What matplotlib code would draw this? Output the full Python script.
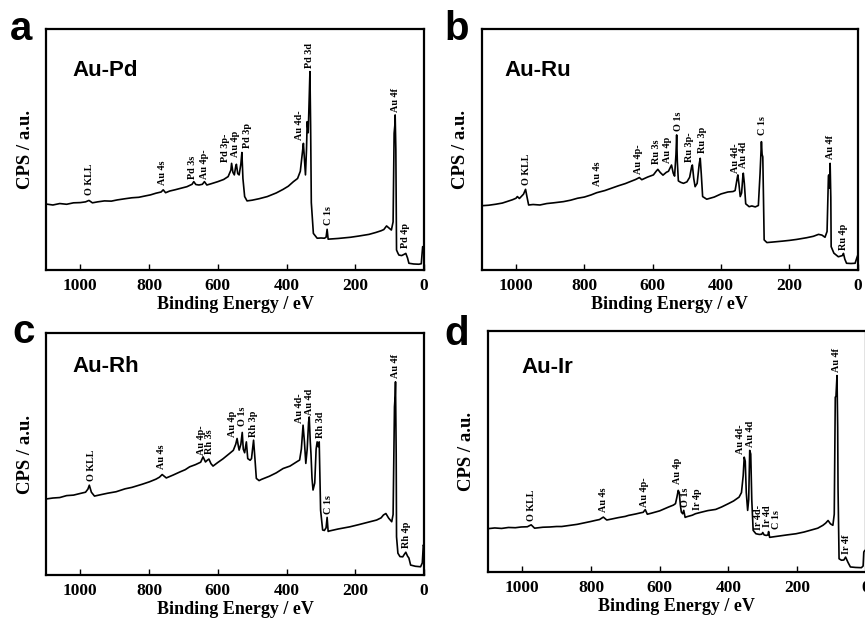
import matplotlib
matplotlib.use("Agg")
import matplotlib.pyplot as plt

# XPS survey spectra (0..100 = bottom..top of the frame)
pd_energy = [1100, 1080, 1060, 1040, 1020, 1000, 985, 975, 965, 950, 930, 910, 893, 870, 850,
             830, 810, 796, 780, 765, 759, 752, 740, 725, 709, 690, 675, 670, 664, 655, 645,
             639, 632, 620, 600, 583, 570, 562, 560, 556, 552, 548, 546, 542, 538, 533, 530,
             527, 522, 515, 500, 480, 456, 430, 410, 395, 380, 368, 360, 353, 351, 348, 345,
             342, 340, 337, 334, 332, 330, 328, 322, 311, 300, 290, 285, 282, 279, 270, 250,
             214, 190, 160, 140, 125, 117, 109, 100, 95, 90, 87, 85, 84, 82, 80, 76, 73, 65,
             58, 53, 48, 44, 30, 15, 8, 4, 0]
pd_cps = [27.4, 27.0, 27.6, 27.3, 27.9, 28.0, 28.3, 28.9, 27.9, 28.3, 28.7, 28.6, 29.1, 29.6, 30.0,
          30.2, 30.8, 31.2, 31.9, 32.4, 33.3, 32.1, 32.8, 33.3, 33.9, 34.6, 35.6, 36.7, 35.5, 35.3, 35.6,
          36.7, 35.3, 35.8, 36.7, 37.6, 38.8, 41.5, 44.3, 40.5, 39.5, 43.0, 43.9, 40.0, 39.5, 44.0, 48.8,
          38.0, 30.5, 28.7, 29.0, 29.6, 30.5, 32.0, 33.5, 34.8, 36.7, 38.0, 41.0, 50.0, 52.6, 46.0, 39.5,
          50.0, 61.6, 57.0, 72.0, 82.4, 60.0, 28.0, 15.2, 13.2, 13.3, 13.2, 13.6, 16.9, 12.8, 12.9, 13.1,
          13.6, 14.1, 14.8, 15.6, 16.3, 16.8, 18.3, 17.2, 16.6, 20.0, 56.8, 60.0, 64.4, 50.0, 8.3, 7.0, 6.2, 6.0,
          6.5, 6.9, 5.0, 2.8, 2.5, 2.4, 2.6, 9.7, 9.0]

ru_energy = [1100, 1080, 1060, 1040, 1027, 1010, 1000, 996, 990, 984, 978, 972, 968, 963, 950,
             930, 910, 890, 861, 840, 820, 800, 780, 764, 740, 720, 700, 680, 666, 650, 639,
             632, 615, 598, 590, 585, 578, 570, 560, 554, 545, 540, 536, 532, 530, 528, 525,
             518, 510, 500, 492, 486, 484, 480, 476, 470, 464, 461, 458, 454, 442, 420, 400,
             380, 365, 359, 353, 351, 348, 344, 340, 336, 335, 332, 328, 318, 310, 300, 291,
             286, 282, 280, 278, 276, 274, 266, 250, 220, 200, 179, 150, 130, 115, 105, 96,
             90, 86, 85, 83, 81, 79, 78, 70, 57, 50, 45, 42, 38, 33, 20, 8, 3, 0]
ru_cps = [26.7, 26.9, 27.3, 27.8, 28.4, 29.2, 29.8, 30.5, 29.7, 30.6, 31.5, 33.5, 30.5, 27.0, 27.2,
          27.0, 27.6, 27.9, 28.4, 29.0, 29.8, 30.3, 31.2, 32.1, 33.0, 34.0, 35.0, 35.9, 36.7, 37.6, 38.4,
          37.5, 38.6, 39.5, 41.0, 41.8, 40.5, 39.4, 40.6, 41.0, 43.6, 40.2, 39.0, 48.0, 56.1, 45.0, 37.0,
          36.4, 36.0, 36.6, 38.5, 43.0, 43.6, 38.0, 34.6, 36.0, 44.0, 46.4, 40.0, 30.5, 29.4, 30.3, 31.6,
          32.4, 32.6, 33.0, 38.0, 39.5, 36.0, 30.5, 32.0, 39.5, 40.2, 36.0, 27.5, 26.3, 26.6, 26.2, 26.8,
          40.0, 53.3, 48.0, 47.0, 30.0, 12.5, 11.4, 11.6, 12.0, 12.3, 12.7, 13.4, 14.0, 14.8, 14.5, 13.6,
          16.0, 39.0, 39.5, 34.0, 44.3, 30.0, 9.7, 7.0, 5.5, 5.8, 6.0, 6.9, 4.5, 2.8, 2.7, 2.8, 5.0, 6.2]

rh_energy = [1100, 1080, 1060, 1040, 1020, 1000, 985, 978, 974, 968, 959, 940, 920, 896, 870,
             850, 820, 799, 780, 770, 762, 750, 730, 710, 695, 682, 665, 650, 643, 636, 630,
             626, 620, 614, 600, 585, 566, 555, 548, 544, 540, 538, 533, 529, 526, 522, 517,
             513, 506, 502, 499, 496, 492, 488, 480, 473, 450, 430, 410, 390, 370, 362, 357,
             352, 348, 344, 340, 336, 334, 331, 329, 326, 323, 318, 314, 311, 308, 305, 301,
             295, 290, 285, 282, 279, 275, 250, 216, 190, 160, 138, 125, 118, 111, 103, 94,
             90, 86, 84, 83, 81, 80, 76, 70, 62, 57, 53, 48, 44, 39, 25, 10, 5, 2, 0]
rh_cps = [31.4, 31.8, 32.0, 32.8, 33.0, 33.7, 34.2, 35.5, 37.1, 34.2, 32.6, 33.2, 33.8, 34.4, 35.6,
          36.2, 37.5, 38.5, 39.6, 40.4, 41.5, 40.1, 41.3, 42.6, 43.5, 44.7, 45.6, 46.6, 48.8, 46.7, 47.5,
          47.9, 46.0, 45.0, 46.5, 48.0, 50.2, 51.5, 54.0, 56.4, 53.0, 51.6, 54.0, 58.9, 52.0, 50.5, 55.0,
          48.1, 47.4, 48.1, 52.0, 55.7, 48.0, 39.9, 39.0, 39.5, 40.8, 42.2, 44.0, 45.0, 46.8, 47.5, 52.0,
          61.9, 55.0, 46.1, 52.0, 63.0, 65.3, 55.0, 50.2, 40.0, 35.1, 38.0, 52.0, 55.0, 53.0, 55.0, 26.8,
          18.6, 18.4, 19.5, 23.8, 18.0, 18.2, 19.0, 19.9, 20.8, 21.9, 22.7, 23.6, 24.8, 25.4, 23.5, 22.0,
          25.0, 69.5, 74.0, 79.8, 50.0, 15.8, 9.0, 7.6, 7.5, 8.6, 9.4, 7.8, 7.0, 4.1, 3.6, 3.4, 5.0, 12.4, 11.5]

ir_energy = [1100, 1080, 1060, 1040, 1020, 1003, 985, 974, 964, 940, 920, 900, 885, 860, 840,
             820, 800, 788, 775, 764, 754, 740, 720, 700, 691, 670, 655, 648, 642, 636, 625,
             600, 574, 560, 554, 550, 546, 543, 540, 537, 533, 530, 526, 520, 505, 496, 480,
             460, 437, 420, 400, 385, 369, 362, 357, 354, 351, 348, 344, 341, 338, 335, 332,
             328, 320, 310, 303, 300, 296, 290, 285, 283, 280, 270, 250, 230, 203, 180, 160,
             140, 125, 117, 110, 103, 96, 92, 89, 87, 84, 82, 81, 78, 71, 64, 59, 52, 45,
             30, 13, 8, 6, 3, 0]
ir_cps = [18.0, 18.3, 18.1, 18.5, 18.4, 18.7, 18.8, 19.6, 18.2, 18.6, 18.7, 18.9, 18.9, 19.4, 19.8,
          20.4, 21.0, 21.4, 21.8, 22.8, 21.6, 22.0, 22.6, 23.1, 23.5, 24.1, 24.6, 24.8, 25.9, 24.0, 24.4,
          25.4, 27.0, 27.8, 28.4, 31.0, 33.9, 33.0, 28.0, 24.9, 24.2, 25.6, 22.7, 23.0, 23.6, 24.2, 24.8,
          25.5, 26.0, 27.0, 28.4, 29.5, 31.1, 33.0, 40.0, 47.7, 46.0, 33.0, 25.6, 30.0, 50.5, 49.0, 30.0,
          17.3, 15.9, 15.6, 15.7, 16.4, 15.4, 15.2, 15.4, 16.8, 14.4, 14.6, 15.0, 15.4, 15.9, 16.6, 17.4,
          18.2, 19.4, 20.3, 21.4, 20.0, 19.4, 24.0, 72.6, 73.0, 81.6, 60.0, 35.0, 5.5, 4.9, 5.0, 6.2, 4.0, 2.1,
          1.9, 1.8, 2.5, 8.3, 9.0, 9.0]

# peak labels: name, energy, height of label foot
pd_peaks = ["O KLL", "Au 4s", "Pd 3s", "Au 4p-", "Pd 3p-", "Au 4p", "Pd 3p", "Au 4d-", "Pd 3d", "C 1s", "Au 4f", "Pd 4p"]
pd_peak_e = [973, 760, 675, 638, 578, 550, 515, 361, 332, 279, 83, 53]
pd_peak_y = [31.2, 35.3, 38.0, 38.0, 45.0, 47.0, 50.5, 54.0, 83.8, 18.7, 65.8, 9.0]

ru_peaks = ["O KLL", "Au 4s", "Au 4p-", "Ru 3s", "Au 4p", "O 1s", "Ru 3p-", "Ru 3p", "Au 4d-", "Au 4d", "C 1s", "Au 4f", "Ru 4p"]
ru_peak_e = [969, 761, 642, 590, 557, 525, 491, 454, 359, 335, 278, 81, 42]
ru_peak_y = [35.3, 34.9, 39.9, 44.0, 44.3, 57.9, 45.0, 48.5, 40.4, 42.2, 56.0, 46.0, 8.3]

rh_peaks = ["O KLL", "Au 4s", "Au 4p-", "Rh 3s", "Au 4p", "O 1s", "Rh 3p", "Au 4d-", "Au 4d", "Rh 3d", "C 1s", "Au 4f", "Rh 4p"]
rh_peak_e = [969, 763, 648, 624, 558, 527, 496, 362, 334, 301, 279, 82, 52]
rh_peak_y = [38.9, 43.6, 49.5, 49.8, 57.1, 61.5, 57.1, 62.9, 66.0, 56.4, 25.4, 81.2, 11.0]

ir_peaks = ["O KLL", "Au 4s", "Au 4p-", "Au 4p", "O 1s", "Ir 4p", "Au 4d-", "Au 4d", "Ir 4d-", "Ir 4d", "C 1s", "Au 4f", "Ir 4f"]
ir_peak_e = [974, 764, 644, 549, 525, 491, 364, 335, 313, 286, 261, 86, 57]
ir_peak_y = [21.2, 24.9, 27.2, 36.4, 27.0, 25.9, 49.1, 51.9, 17.3, 18.7, 18.0, 83.0, 7.6]

samples = ["Au-Pd", "Au-Ru", "Au-Rh", "Au-Ir"]
letters = ["a", "b", "c", "d"]
xtick_values = [1000, 800, 600, 400, 200, 0]

plt.rcParams["font.family"] = ["Liberation Serif", "DejaVu Serif"]
plt.rcParams["font.weight"] = "bold"
plt.rcParams["axes.labelweight"] = "bold"

fig = plt.figure(figsize=(8.65, 6.19), dpi=100)

boxes = [[0.0532, 0.5638, 0.437, 0.389],
         [0.557, 0.5638, 0.4347, 0.389],
         [0.0532, 0.0711, 0.437, 0.391],
         [0.564, 0.0759, 0.437, 0.389]]
spectra = [(pd_energy, pd_cps), (ru_energy, ru_cps), (rh_energy, rh_cps), (ir_energy, ir_cps)]
peaks = [(pd_peaks, pd_peak_e, pd_peak_y), (ru_peaks, ru_peak_e, ru_peak_y),
         (rh_peaks, rh_peak_e, rh_peak_y), (ir_peaks, ir_peak_e, ir_peak_y)]
title_pos = [(0.071, 0.83), (0.061, 0.83), (0.071, 0.86), (0.09, 0.85)]
letter_pos = [(0.011, 0.935), (0.514, 0.935), (0.014, 0.446), (0.514, 0.443)]
ylabel_x = [0.029, 0.532, 0.029, 0.539]

for i in range(4):
    ax = fig.add_axes(boxes[i])
    e, c = spectra[i]
    ax.plot(e, c, color="black", lw=1.2)
    ax.set_xlim(1100, 0)
    ax.set_ylim(0, 100)
    ax.set_yticks([])
    ax.set_xticks(xtick_values)
    ax.tick_params(axis="x", direction="in", length=4, width=1, labelsize=12.5, pad=6)
    for s in ax.spines.values():
        s.set_linewidth(1.6)
    ax.set_xlabel("Binding Energy / eV", fontsize=13, labelpad=1)

    names, pe, py = peaks[i]
    for n, x, y in zip(names, pe, py):
        ax.text(x, y, n, rotation=90, ha="center", va="bottom", fontsize=7.3)

    tx, ty = title_pos[i]
    ax.text(tx, ty, samples[i], transform=ax.transAxes, ha="left", va="center",
            fontsize=16, family="Liberation Sans", fontweight="bold")

    lx, ly = letter_pos[i]
    fig.text(lx, ly, letters[i], fontsize=29, family="Liberation Sans", fontweight="bold")

    yb = boxes[i][1] + boxes[i][3] / 2
    fig.text(ylabel_x[i], yb, "CPS / a.u.", rotation=90, ha="center", va="center", fontsize=13.5)

fig.savefig("out.png", dpi=100)
